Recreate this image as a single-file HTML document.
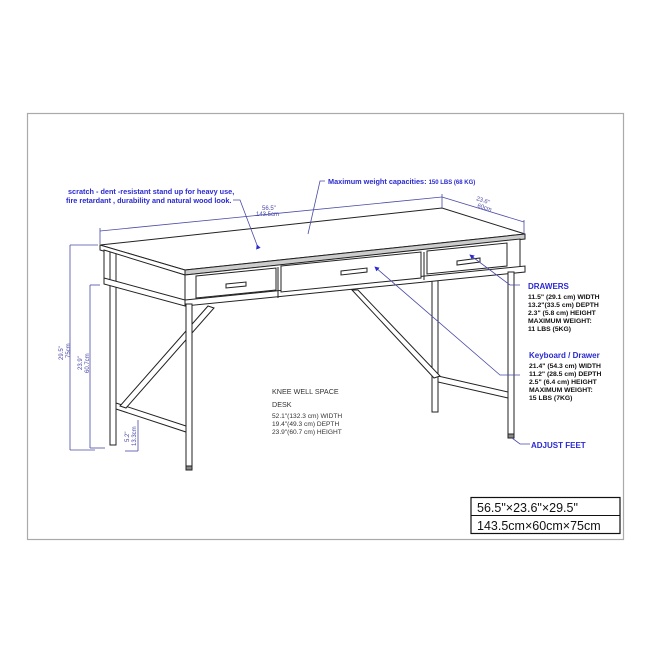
<!DOCTYPE html>
<html><head><meta charset="utf-8"><style>
body{margin:0;background:#fff}
svg{display:block}
text{font-family:"Liberation Sans",sans-serif}
</style></head><body>
<svg width="653" height="653" viewBox="0 0 653 653" xmlns="http://www.w3.org/2000/svg">
<defs><marker id="a" markerWidth="6" markerHeight="6" refX="5" refY="3" orient="auto"><path d="M0,0 L6,3 L0,6 z" fill="#2a2ad0"/></marker></defs>
<rect x="27.5" y="113.5" width="596" height="426" fill="#fff" stroke="#aaa" stroke-width="1.2"/>
<g fill="#fff" stroke="#222" stroke-width="1">
<rect x="110" y="280" width="6" height="165"/>
<rect x="432" y="272" width="6" height="140"/>
<polygon points="116,403 186,426 186,432 116,409"/>
<polygon points="438,376 508,392 508,398 438,382"/>
<polygon points="208,306 214,308 126,408 120,406"/>
<polygon points="352,290 358,290 440,376 434,378"/>
<polygon points="100,245 442,208 525,234 185,270"/>
<polygon points="100,245 185,270 185,275 100,250"/>
<polygon points="185,270 525,234 525,239 185,275" fill="#ccc"/>
<polygon points="104,250 185,275 185,305 104,282"/>
<line x1="110" y1="252" x2="110" y2="283"/>
<line x1="116" y1="254" x2="116" y2="285"/>
<polygon points="185,275 520,239 520,272 185,305"/>
<polygon points="185,300 525,266 525,272 185,306"/>
<polygon points="104,278 185,300 185,306 104,284"/>
<polygon points="196,276 276,268 276,290 196,298"/>
<polygon points="281,266 421,252 421,278 281,292"/>
<polygon points="427,251 507,243 507,266 427,274"/>
<line x1="278" y1="267" x2="278" y2="298"/>
<line x1="424" y1="252" x2="424" y2="280"/>
<polygon points="226,284 246,282 246,286 226,288"/>
<polygon points="341,271 367,268 367,272 341,275"/>
<polygon points="457,261 480,258 480,262 457,265"/>
<rect x="186" y="304" width="6" height="166"/>
<rect x="508" y="272" width="6" height="166"/>
<rect x="186" y="466" width="6" height="4" fill="#888"/>
<rect x="508" y="434" width="6" height="4" fill="#888"/>
</g>
<g stroke="#4a4aa8" stroke-width="0.8" fill="none">
<line x1="100" y1="231" x2="442" y2="197"/>
<line x1="100" y1="228" x2="100" y2="244"/>
<line x1="442" y1="194" x2="442" y2="208"/>
<line x1="442" y1="197" x2="524" y2="222"/>
<line x1="524" y1="220" x2="524" y2="234"/>
<line x1="70" y1="245" x2="70" y2="450"/><line x1="70" y1="245" x2="98" y2="245"/><line x1="70" y1="450" x2="95" y2="450"/>
<line x1="90" y1="285" x2="90" y2="448"/><line x1="90" y1="285" x2="100" y2="285"/><line x1="90" y1="448" x2="105" y2="448"/>
<line x1="138" y1="420" x2="138" y2="451"/><line x1="125" y1="451" x2="138" y2="451"/>
<polyline points="257,245 240,200 233,200" marker-start="url(#a)" />
<polyline points="308,234 320,181 325,181" />
<polyline points="520,375 500,375 375,267" marker-end="url(#a)"/>
<polyline points="520,285 510,285 470,255" marker-end="url(#a)"/>
<polyline points="530,444 520,444 512,438"/>
</g>
<g fill="#2a2ad0" font-weight="bold" font-size="7.3">
<text x="68" y="194">scratch - dent -resistant stand up for heavy use,</text>
<text x="66" y="203">fire retardant , durability and natural wood look.</text>
<text x="328" y="184">Maximum weight capacities: <tspan font-size="6">150 LBS (68 KG)</tspan></text>
<text x="528" y="289" font-size="8">DRAWERS</text>
<text x="529" y="358" font-size="8">Keyboard / Drawer</text>
<text x="531" y="448" font-size="8">ADJUST FEET</text>
</g>
<g fill="#4a4aa8" font-size="6">
<text x="262" y="210">56.5"</text><text x="256" y="216">143.5cm</text>
<text x="476" y="200" transform="rotate(18 476 200)">23.6"</text><text x="477" y="207" transform="rotate(18 477 207)">60cm</text>
<text transform="translate(63 360) rotate(-90)">29.5"</text><text transform="translate(70 358) rotate(-90)">75cm</text>
<text transform="translate(82 370) rotate(-90)">23.9"</text><text transform="translate(89 373) rotate(-90)">60.7cm</text>
<text transform="translate(129 442) rotate(-90)">5.2"</text><text transform="translate(136 446) rotate(-90)">13.3cm</text>
</g>
<g fill="#111" font-weight="bold" font-size="6.8">
<text x="528" y="299">11.5"  (29.1 cm) WIDTH</text>
<text x="528" y="307">13.2"(33.5 cm) DEPTH</text>
<text x="528" y="315">2.3"  (5.8 cm) HEIGHT</text>
<text x="528" y="323">MAXIMUM WEIGHT:</text>
<text x="528" y="331">11 LBS (5KG)</text>
<text x="529" y="368">21.4"  (54.3 cm) WIDTH</text>
<text x="529" y="376">11.2"  (28.5 cm) DEPTH</text>
<text x="529" y="384">2.5"    (6.4 cm) HEIGHT</text>
<text x="529" y="392">MAXIMUM WEIGHT:</text>
<text x="529" y="400">15 LBS (7KG)</text>
</g>
<g fill="#333" font-size="7.2">
<text x="272" y="394">KNEE WELL SPACE</text>
<text x="272" y="407">DESK</text>
<g font-size="6.6"><text x="272" y="418">52.1"(132.3 cm) WIDTH</text>
<text x="272" y="426">19.4"(49.3 cm) DEPTH</text>
<text x="272" y="434">23.9"(60.7 cm) HEIGHT</text></g>
</g>
<rect x="471" y="497.5" width="149" height="36" fill="#fff" stroke="#111" stroke-width="1.2"/>
<line x1="471" y1="515.5" x2="620" y2="515.5" stroke="#111"/>
<g fill="#111" font-size="12.5">
<text x="477" y="512">56.5"×23.6"×29.5"</text>
<text x="477" y="530">143.5cm×60cm×75cm</text>
</g>
</svg>
</body></html>
